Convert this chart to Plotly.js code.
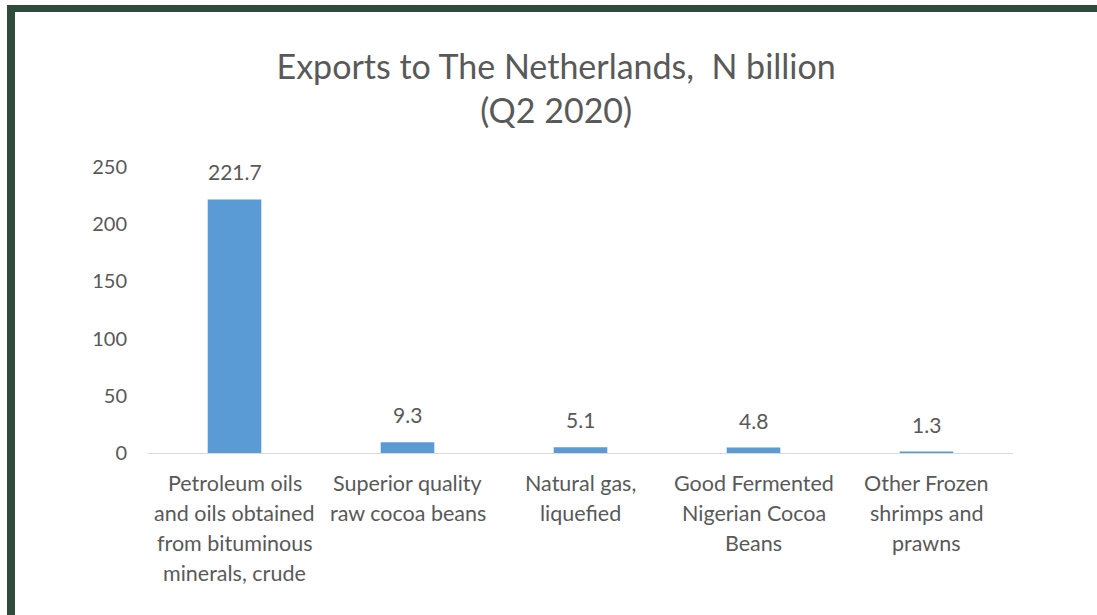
<!DOCTYPE html>
<html>
<head>
<meta charset="utf-8">
<script src="https://cdn.plot.ly/plotly-3.0.1.min.js"></script>
<style>
html,body{margin:0;padding:0;background:#fff;}
#wrap{position:relative;width:1097px;height:615px;overflow:hidden;}
#chart{position:absolute;left:0;top:0;width:1097px;height:615px;}
.bt{position:absolute;left:7px;top:5px;width:1090px;height:7px;background:#2F4B3C;}
.bl{position:absolute;left:7px;top:5px;width:8px;height:610px;background:#2F4B3C;}
</style>
</head>
<body>
<div id="wrap">
<div id="chart"></div>
<div class="bt"></div>
<div class="bl"></div>
</div>
<script>
const categories = [
  "Petroleum oils<br>and oils obtained<br>from bituminous<br>minerals, crude",
  "Superior quality<br>raw cocoa beans",
  "Natural gas,<br>liquefied",
  "Good Fermented<br>Nigerian Cocoa<br>Beans",
  "Other Frozen<br>shrimps and<br>prawns"
];
const values = [221.7, 9.3, 5.1, 4.8, 1.3];
const valueLabels = ["221.7", "9.3", "5.1", "4.8", "1.3"];
const yTicks = [0, 50, 100, 150, 200, 250];

const grey = "#595959";
const fontFam = "Lato, 'Open Sans', sans-serif";

const annotations = [];
categories.forEach((c, i) => {
  c.split("<br>").forEach((line, j) => {
    annotations.push({
      x: c, y: 0, xref: "x", yref: "y",
      text: line, showarrow: false,
      xanchor: "center", yanchor: "middle",
      yshift: -(30 + 30 * j),
      font: {family: fontFam, size: 21.5, color: grey}
    });
  });
  annotations.push({
    x: c, y: values[i], xref: "x", yref: "y",
    text: valueLabels[i], showarrow: false,
    xanchor: "center", yanchor: "bottom",
    yshift: 13,
    font: {family: fontFam, size: 21, color: grey}
  });
});

const trace = {
  type: "bar",
  x: categories,
  y: values,
  marker: {color: "#5B9BD5"},
  width: 0.31,
  hoverinfo: "none"
};

const layout = {
  width: 1097, height: 615,
  margin: {l: 148, r: 84, t: 167, b: 162},
  paper_bgcolor: "#ffffff",
  plot_bgcolor: "#ffffff",
  showlegend: false,
  title: {
    text: "Exports to The Netherlands,  N billion<br>(Q2 2020)",
    font: {family: fontFam, size: 34, color: grey},
    x: 0.507, xanchor: "center",
    y: 0.872, yanchor: "top"
  },
  xaxis: {
    type: "category",
    showticklabels: false,
    showline: true, linecolor: "#d9d9d9", linewidth: 1,
    ticks: "", showgrid: false, zeroline: false
  },
  yaxis: {
    range: [0, 250],
    tickvals: yTicks,
    ticktext: yTicks.map(String),
    showgrid: false, zeroline: false, showline: false,
    ticks: "",
    ticklabelstandoff: 20,
    tickfont: {family: fontFam, size: 20, color: grey}
  },
  annotations: annotations
};

Plotly.newPlot("chart", [trace], layout, {staticPlot: true, displayModeBar: false});
</script>
</body>
</html>
